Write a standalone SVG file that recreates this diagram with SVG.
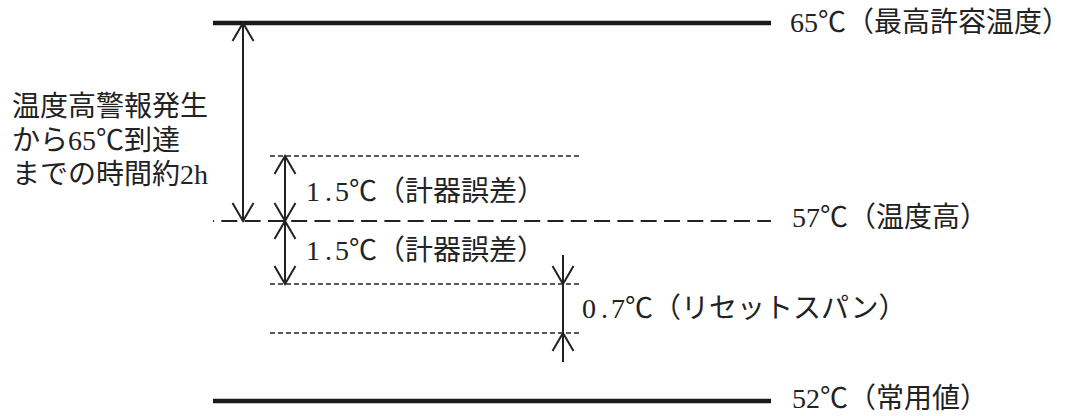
<svg xmlns="http://www.w3.org/2000/svg" width="1069" height="416" viewBox="0 0 1069 416">
<style>
text{font-family:"Liberation Serif","Noto Sans CJK JP",serif;font-size:28px;fill:#222}
.cj{font-family:"Noto Sans CJK JP",sans-serif}
.thick{stroke:#1a1a1a;stroke-width:4.5;fill:none}
.long{stroke:#222;stroke-width:2;fill:none;stroke-dasharray:16 7.3;stroke-dashoffset:15}
.short{stroke:#222;stroke-width:1.6;fill:none;stroke-dasharray:5 3}
.arr{stroke:#222;stroke-width:2;fill:none}
</style>
<defs>
<marker id="ah" markerUnits="userSpaceOnUse" markerWidth="24" markerHeight="26" viewBox="-20 -13 24 26" refX="0" refY="0" orient="auto-start-reverse" overflow="visible">
<path d="M-18,-10.5 L0,0 L-18,10.5" fill="none" stroke="#222" stroke-width="2"/>
</marker>
</defs>
<rect width="1069" height="416" fill="#fff"/>
<g id="level65">
<line class="thick" x1="213" y1="23" x2="771" y2="23"/>
<text x="790" y="32">65<tspan class="cj">℃（最高許容温度）</tspan></text>
</g>
<g id="level57">
<line class="long" x1="213" y1="221" x2="771" y2="221"/>
<text x="792" y="227">57<tspan class="cj">℃（温度高）</tspan></text>
</g>
<g id="level52">
<line class="thick" x1="213" y1="401" x2="771" y2="401"/>
<text x="792" y="408">52<tspan class="cj">℃（常用値）</tspan></text>
</g>
<g id="upperError">
<line class="short" x1="270" y1="156" x2="579" y2="156"/>
<text x="306" y="201"><tspan>1</tspan><tspan dx="5">.</tspan><tspan dx="3">5</tspan><tspan class="cj">℃（計器誤差）</tspan></text>
</g>
<g id="lowerError">
<line class="short" x1="270" y1="284" x2="579" y2="284"/>
<text x="306" y="260"><tspan>1</tspan><tspan dx="5">.</tspan><tspan dx="3">5</tspan><tspan class="cj">℃（計器誤差）</tspan></text>
</g>
<g id="resetSpan">
<line class="short" x1="270" y1="333" x2="579" y2="333"/>
<text x="582" y="318"><tspan>0</tspan><tspan dx="5">.</tspan><tspan dx="3">7</tspan><tspan class="cj">℃（リセットスパン）</tspan></text>
</g>
<g id="timeNote">
<text x="12" y="116"><tspan x="12" y="116">温度高警報発生</tspan><tspan x="12" y="150">から65<tspan class="cj">℃</tspan>到達</tspan><tspan x="12" y="184">までの時間約2h</tspan></text>
</g>
<g id="connectors">
<line class="arr" x1="243" y1="23" x2="243" y2="221" marker-start="url(#ah)" marker-end="url(#ah)"/>
<line class="arr" x1="285" y1="156" x2="285" y2="221" marker-start="url(#ah)" marker-end="url(#ah)"/>
<line class="arr" x1="285" y1="221" x2="285" y2="284" marker-start="url(#ah)" marker-end="url(#ah)"/>
<line class="arr" x1="563" y1="255" x2="563" y2="284" marker-end="url(#ah)"/>
<line class="arr" x1="563" y1="284" x2="563" y2="333"/>
<line class="arr" x1="563" y1="362" x2="563" y2="333" marker-end="url(#ah)"/>
</g>
</svg>
